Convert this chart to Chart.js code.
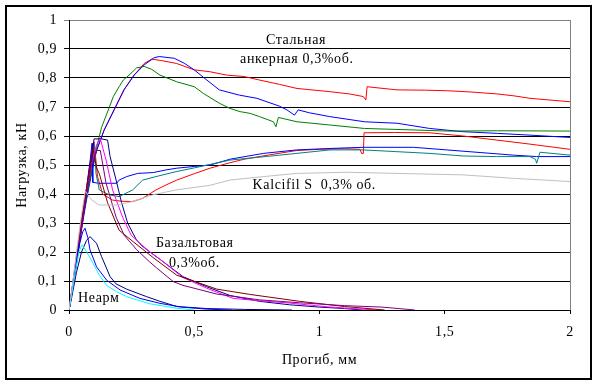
<!DOCTYPE html>
<html><head><meta charset="utf-8">
<script src="https://cdn.jsdelivr.net/npm/chart.js@4/dist/chart.umd.min.js"></script>
<style>html,body{margin:0;padding:0;background:#fff}canvas{display:block}</style>
</head><body>
<canvas id="c" width="599" height="385"></canvas>
<script>
// ---- Data (deflection, mm / load, kN) ----
const steel1X = [0,0.01,0.03,0.05,0.07,0.09,0.11,0.14,0.18,0.22,0.26,0.3,0.33,0.37,0.43,0.5,0.56,0.63,0.7,0.76,0.84,0.91,1.04,1.12,1.175,1.185,1.19,1.21,1.31,1.42,1.51,1.6,1.71,1.78,1.84,1.92,2.0];
const steel1Y = [0,0.05,0.17,0.29,0.39,0.48,0.55,0.62,0.69,0.76,0.81,0.85,0.865,0.86,0.85,0.828,0.822,0.81,0.805,0.793,0.778,0.764,0.753,0.745,0.736,0.724,0.77,0.768,0.759,0.758,0.756,0.752,0.745,0.738,0.73,0.724,0.718];
const steel2X = [0,0.01,0.03,0.05,0.07,0.09,0.11,0.14,0.18,0.22,0.26,0.3,0.34,0.36,0.42,0.46,0.5,0.55,0.6,0.68,0.75,0.84,0.87,0.9,0.915,0.96,1.04,1.18,1.31,1.44,1.57,1.71,1.84,2.0];
const steel2Y = [0,0.05,0.16,0.28,0.38,0.47,0.55,0.62,0.69,0.76,0.81,0.845,0.87,0.874,0.868,0.851,0.828,0.793,0.759,0.741,0.73,0.703,0.69,0.672,0.69,0.68,0.667,0.649,0.644,0.626,0.615,0.609,0.603,0.595];
const steel3X = [0,0.01,0.03,0.05,0.07,0.09,0.11,0.13,0.157,0.177,0.2,0.217,0.24,0.27,0.3,0.33,0.363,0.43,0.5,0.536,0.6,0.643,0.683,0.723,0.76,0.816,0.826,0.836,0.91,1.04,1.18,1.37,1.51,1.71,2.0];
const steel3Y = [0,0.05,0.17,0.29,0.39,0.48,0.56,0.63,0.69,0.736,0.77,0.793,0.81,0.835,0.84,0.83,0.81,0.787,0.77,0.747,0.713,0.695,0.684,0.678,0.667,0.649,0.632,0.664,0.649,0.638,0.626,0.621,0.617,0.618,0.617];

const fibreRedX = [0,0.01,0.03,0.05,0.07,0.09,0.1,0.114,0.134,0.174,0.21,0.254,0.294,0.347,0.387,0.43,0.5,0.563,0.643,0.7,0.8,0.909,1.0,1.1,1.162,1.168,1.175,1.178,1.3,1.441,1.574,1.707,1.84,2.0];
const fibreRedY = [0,0.06,0.19,0.31,0.42,0.54,0.58,0.46,0.40,0.379,0.375,0.374,0.385,0.414,0.431,0.448,0.47,0.489,0.508,0.52,0.535,0.55,0.554,0.556,0.554,0.54,0.54,0.611,0.612,0.611,0.6,0.586,0.572,0.554];
const fibreBlueX = [0,0.01,0.03,0.05,0.07,0.085,0.092,0.095,0.12,0.15,0.19,0.2,0.23,0.274,0.337,0.387,0.43,0.5,0.563,0.643,0.776,0.909,1.042,1.175,1.375,1.508,1.641,1.774,1.867,2.0];
const fibreBlueY = [0,0.06,0.18,0.3,0.42,0.52,0.575,0.44,0.437,0.437,0.437,0.448,0.46,0.471,0.474,0.483,0.489,0.495,0.5,0.52,0.54,0.552,0.557,0.561,0.561,0.552,0.543,0.534,0.529,0.529];
const fibreTealX = [0,0.01,0.03,0.05,0.07,0.09,0.1,0.108,0.121,0.161,0.2,0.254,0.294,0.347,0.427,0.5,0.643,0.842,1.042,1.175,1.308,1.441,1.574,1.707,1.84,1.862,1.867,1.88,2.0];
const fibreTealY = [0,0.05,0.17,0.29,0.41,0.52,0.57,0.47,0.414,0.397,0.391,0.414,0.448,0.46,0.477,0.49,0.517,0.534,0.552,0.552,0.546,0.54,0.531,0.529,0.529,0.52,0.506,0.544,0.534];
const kalcifilX = [0,0.01,0.03,0.05,0.065,0.09,0.121,0.188,0.254,0.334,0.427,0.563,0.643,0.776,0.909,1.109,1.308,1.574,1.774,2.0];
const kalcifilY = [0,0.06,0.2,0.33,0.41,0.38,0.362,0.362,0.374,0.397,0.414,0.43,0.448,0.46,0.471,0.475,0.471,0.466,0.454,0.443];

const basalt1X = [0,0.01,0.03,0.05,0.07,0.09,0.1,0.13,0.154,0.164,0.188,0.21,0.234,0.267,0.29,0.323,0.363,0.455,0.55,0.643,0.76,0.88,1.0,1.1,1.17];
const basalt1Y = [0,0.05,0.16,0.28,0.4,0.52,0.59,0.59,0.586,0.529,0.448,0.37,0.30,0.245,0.222,0.2,0.175,0.115,0.08,0.05,0.03,0.018,0.01,0.005,0];
const basalt2X = [0,0.01,0.03,0.05,0.07,0.09,0.11,0.125,0.148,0.174,0.214,0.248,0.29,0.323,0.363,0.455,0.55,0.655,0.76,0.88,1.03,1.13,1.23];
const basalt2Y = [0,0.06,0.18,0.3,0.41,0.5,0.57,0.59,0.517,0.414,0.32,0.258,0.225,0.2,0.175,0.112,0.075,0.04,0.032,0.024,0.011,0.005,0];
const basalt3X = [0,0.01,0.03,0.05,0.07,0.085,0.095,0.11,0.121,0.154,0.2,0.257,0.337,0.43,0.59,0.72,0.92,1.1,1.26];
const basalt3Y = [0,0.05,0.17,0.3,0.42,0.5,0.56,0.49,0.47,0.37,0.275,0.235,0.18,0.12,0.072,0.054,0.03,0.012,0];
const basalt4X = [0,0.01,0.03,0.05,0.07,0.09,0.11,0.125,0.148,0.188,0.22,0.27,0.323,0.35,0.416,0.455,0.59,0.76,0.92,1.1,1.25,1.38];
const basalt4Y = [0,0.05,0.16,0.28,0.4,0.5,0.55,0.55,0.437,0.32,0.258,0.208,0.165,0.145,0.098,0.085,0.055,0.035,0.025,0.015,0.01,0];

const plain1X = [0,0.01,0.025,0.04,0.055,0.064,0.075,0.084,0.11,0.15,0.204,0.283,0.363,0.45,0.55,0.65];
const plain1Y = [0,0.05,0.14,0.22,0.27,0.282,0.25,0.207,0.149,0.103,0.069,0.04,0.023,0.01,0.003,0];
const plain2X = [0,0.01,0.03,0.05,0.07,0.084,0.11,0.13,0.164,0.188,0.23,0.31,0.363,0.43,0.55,0.7,0.89];
const plain2Y = [0,0.04,0.13,0.2,0.24,0.253,0.23,0.184,0.115,0.09,0.072,0.046,0.03,0.012,0.005,0.002,0];
const plain3X = [0,0.01,0.025,0.04,0.051,0.064,0.097,0.121,0.15,0.19,0.23,0.32,0.43,0.5];
const plain3Y = [0,0.05,0.13,0.2,0.225,0.21,0.16,0.12,0.085,0.063,0.046,0.022,0.006,0];

const xTicks = [0, 0.5, 1, 1.5, 2];
const yTicks = [0,0.1,0.2,0.3,0.4,0.5,0.6,0.7,0.8,0.9,1];

const notes = [
  {text:'Стальная', x:0.786, y:0.917},
  {text:'анкерная 0,3%об.', x:0.683, y:0.852},
  {text:'Kalcifil S  0,3% об.', x:0.733, y:0.417},
  {text:'Базальтовая', x:0.347, y:0.217},
  {text:'0,3%об.', x:0.399, y:0.148},
  {text:'Неарм', x:0.036, y:0.028}
];

const series = [
  [kalcifilX, kalcifilY, '#C0C0C0'],
  [plain3X, plain3Y, '#00FFFF'],
  [plain1X, plain1Y, '#0000FF'],
  [plain2X, plain2Y, '#000080'],
  [basalt4X, basalt4Y, '#800080'],
  [basalt3X, basalt3Y, '#800000'],
  [basalt2X, basalt2Y, '#FF00FF'],
  [basalt1X, basalt1Y, '#000080'],
  [fibreTealX, fibreTealY, '#008080'],
  [fibreBlueX, fibreBlueY, '#0000FF'],
  [fibreRedX, fibreRedY, '#FF0000'],
  [steel3X, steel3Y, '#008000'],
  [steel2X, steel2Y, '#0000FF'],
  [steel1X, steel1Y, '#FF0000']
];

const FONT = {family: '"Liberation Serif", "Times New Roman", serif', size: 14};
const SPACING = '0.6px';
const fmt = v => String(Math.round(v * 10) / 10).replace('.', ',');

const framePlugin = {
  id: 'frame',
  beforeUpdate(chart) { chart.ctx.letterSpacing = SPACING; },
  beforeDraw(chart) {
    const c = chart.ctx;
    c.letterSpacing = SPACING;
    c.save(); c.fillStyle = '#fff'; c.fillRect(0, 0, chart.width, chart.height); c.restore();
  },
  afterDraw(chart) {
    const c = chart.ctx, a = chart.chartArea;
    c.save();
    c.strokeStyle = '#808080'; c.lineWidth = 1;
    c.beginPath();
    c.moveTo(Math.round(a.right) + 0.5, a.top);
    c.lineTo(Math.round(a.right) + 0.5, a.bottom);
    c.stroke();
    c.strokeStyle = '#000'; c.lineWidth = 2;
    c.strokeRect(6, 6, 585, 373);
    c.restore();
  }
};
const notesPlugin = {
  id: 'notes',
  afterDatasetsDraw(chart) {
    const c = chart.ctx, sx = chart.scales.x, sy = chart.scales.y;
    c.save();
    c.font = '14px "Liberation Serif", "Times New Roman", serif';
    c.letterSpacing = SPACING;
    c.fillStyle = '#000'; c.textAlign = 'left'; c.textBaseline = 'alphabetic';
    notes.forEach(n => c.fillText(n.text, sx.getPixelForValue(n.x), sy.getPixelForValue(n.y)));
    c.restore();
  }
};

new Chart(document.getElementById('c'), {
  type: 'scatter',
  data: {
    datasets: series.map(([xs, ys, col]) => ({
      data: xs.map((x, i) => ({x, y: ys[i]})),
      showLine: true, borderColor: col, backgroundColor: col,
      borderWidth: 1, pointRadius: 0, tension: 0
    }))
  },
  options: {
    responsive: false, animation: false, devicePixelRatio: 1,
    layout: {padding: {top: 20, right: 29, left: 0, bottom: 0}},
    plugins: {legend: {display: false}, tooltip: {enabled: false}},
    scales: {
      x: {
        type: 'linear', min: 0, max: 2,
        afterBuildTicks: s => { s.ticks = xTicks.map(v => ({value: v})); },
        afterFit: s => { s.height = 75; },
        ticks: {callback: fmt, font: FONT, color: '#000', padding: 10, maxRotation: 0},
        grid: {drawOnChartArea: false, drawTicks: true, tickLength: 4, color: '#000'},
        border: {color: '#000', width: 1},
        title: {display: true, text: 'Прогиб, мм', font: FONT, color: '#000', padding: {top: 0, bottom: 16}}
      },
      y: {
        type: 'linear', min: 0, max: 1,
        afterBuildTicks: s => { s.ticks = yTicks.map(v => ({value: v})); },
        afterFit: s => { s.width = 69; },
        ticks: {callback: fmt, font: FONT, color: '#000', padding: 7},
        grid: {color: ctx => (ctx.tick && ctx.tick.value === 1) ? '#808080' : '#000', tickLength: 5, lineWidth: 1},
        border: {color: '#000', width: 1},
        title: {display: true, text: 'Нагрузка, кН', font: FONT, color: '#000', padding: {top: 14, bottom: 0}}
      }
    }
  },
  plugins: [framePlugin, notesPlugin]
});
</script>
</body></html>
